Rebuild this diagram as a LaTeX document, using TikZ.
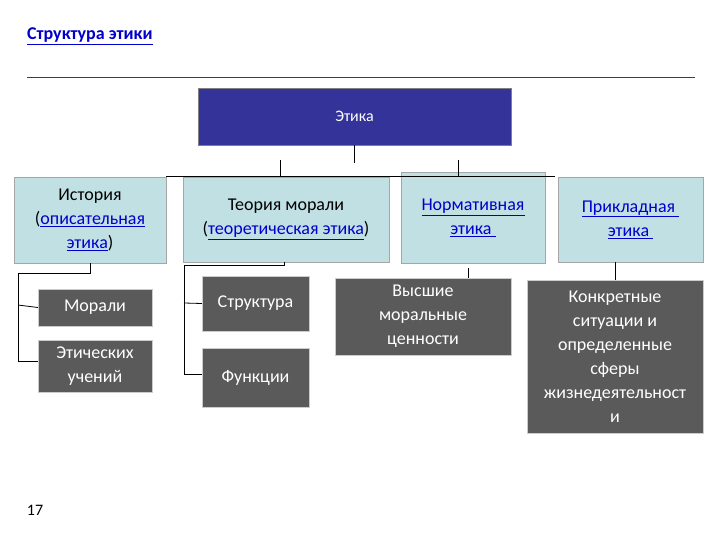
\documentclass[tikz,border=0pt]{standalone}
\usepackage{fontspec}
\setmainfont{Carlito}
\definecolor{ebl}{HTML}{333399}
\definecolor{lbox}{HTML}{C0E0E4}
\definecolor{dbox}{HTML}{5A5A5A}
\definecolor{lnk}{HTML}{0000CC}
\newcommand{\lk}[1]{\textcolor{lnk}{\underline{#1}}}
\begin{document}
\begin{tikzpicture}[x=1pt,y=-1pt,
  lb/.style={draw=gray!70,fill=lbox,align=center,font=\fontsize{18}{24}\selectfont,inner sep=0pt},
  db/.style={draw=gray!40,fill=dbox,text=white,align=center,font=\fontsize{18}{24}\selectfont,inner sep=0pt},
  ln/.style={line width=0.8pt}]
\useasboundingbox (0,0) rectangle (720,540);
\node[anchor=west,font=\fontsize{18}{22}\selectfont\bfseries,text=lnk,inner sep=0pt] (title) at (27,36) {\underline{Структура этики}};
\draw[ebl,line width=1pt] (27,78) coordinate (ra) -- (695,78) coordinate (rb);
\node[fill=ebl,draw=gray,text=white,minimum width=313pt,minimum height=57pt,font=\fontsize{16}{19}\selectfont] (eth) at (354.5,116.5) {Этика};
\node[lb,minimum width=152pt,minimum height=86pt] (hist) at (90,220) {История\\(\lk{описательная}\\\lk{этика})};
\node[lb,minimum width=206pt,minimum height=85pt] (theo) at (286,219.5) {Теория морали\\(\lk{теоретическая этика})};
\node[lb,minimum width=144pt,minimum height=91pt] (norm) at (473,218) {\lk{Нормативная}\\\lk{этика }};
\node[lb,minimum width=145pt,minimum height=85pt] (prik) at (630.5,219.5) {\lk{Прикладная }\\\lk{этика }};
\node[db,minimum width=114pt,minimum height=37pt] (mor) at (95,307.5) {Морали};
\node[db,minimum width=114pt,minimum height=52pt] (uch) at (95,366) {Этических\\учений};
\node[db,minimum width=107pt,minimum height=55pt] (str) at (255.5,303.5) {Структура};
\node[db,minimum width=107pt,minimum height=59pt] (fun) at (255.5,377.5) {Функции};
\node[db,minimum width=176pt,minimum height=77pt,text depth=] (vys) at (423,316.5) {Высшие\\моральные\\ценности};
\node[db,minimum width=176pt,minimum height=153pt] (kon) at (615,356.5) {Конкретные\\ситуации и\\определенные\\сферы\\жизнедеятельност\\и};
\node[font=\fontsize{16}{19}\selectfont] (pg) at (35,510) {17};
\draw[ln] (eth.south) -- ++(0,18);
\draw[ln] (166,176) coordinate (b1) -- (555,176) coordinate (b2);
\draw[ln] (280,160) coordinate (t1) -- (280,176);
\draw[ln] (458,160) coordinate (t2) -- (458,176);
\draw[ln] (hist.south) -- (90,273) -- (18,273) -- (18,361) -- (uch.west |- 0,361);
\draw[ln] (18,305) -- (mor.west);
\draw[ln] (284,262) -- (284,265) -- (184,265) -- (184,374) -- (fun.west |- 0,374);
\draw[ln] (184,303) -- (str.west);
\draw[ln] (468,268) -- (468,278);
\draw[ln] (615,262) -- (kon.north);
\end{tikzpicture}
\end{document}
